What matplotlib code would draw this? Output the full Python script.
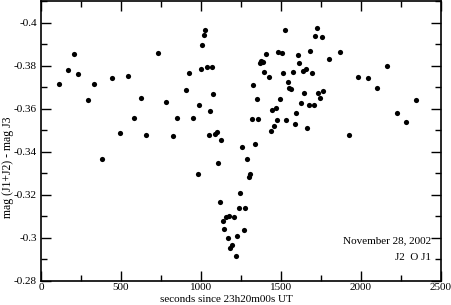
import matplotlib
matplotlib.use("Agg")
import matplotlib.pyplot as plt
from matplotlib.ticker import MultipleLocator

# time (s since 23h20m00s UT) and magnitude difference
seconds = [114, 168, 205, 230, 296, 334, 383, 441, 495, 544, 579, 624, 656,
           729, 783, 823, 852, 904, 925, 949, 980, 989, 998, 1008, 1018, 1027,
           1038, 1048, 1056, 1067, 1077, 1088, 1098, 1106, 1116, 1125, 1136,
           1145, 1155, 1166, 1174, 1184, 1196, 1205, 1216, 1228, 1236, 1246,
           1256, 1266, 1277, 1288, 1298, 1308, 1319, 1327, 1336, 1348, 1356,
           1366, 1378, 1388, 1396, 1408, 1427, 1436, 1443, 1456, 1466, 1476,
           1483, 1495, 1505, 1514, 1525, 1533, 1544, 1552, 1564, 1575, 1586,
           1596, 1605, 1614, 1625, 1636, 1646, 1655, 1664, 1674, 1684, 1695,
           1704, 1714, 1725, 1733, 1744, 1754, 1764, 1802, 1871, 1922, 1983,
           2042, 2103, 2163, 2223, 2283, 2344]
mag_diff = [-0.3713, -0.3780, -0.3854, -0.3759, -0.3641, -0.3713, -0.3365,
            -0.3744, -0.3488, -0.3752, -0.3555, -0.3650, -0.3480, -0.3860,
            -0.3629, -0.3474, -0.3555, -0.3687, -0.3765, -0.3557, -0.3296,
            -0.3617, -0.3785, -0.3896, -0.3942, -0.3964, -0.3794, -0.3479,
            -0.3588, -0.3792, -0.3669, -0.3482, -0.3492, -0.3346, -0.3166,
            -0.3455, -0.3078, -0.3041, -0.3096, -0.2999, -0.3104, -0.2955,
            -0.2967, -0.3097, -0.2917, -0.3007, -0.3138, -0.3209, -0.3420,
            -0.3036, -0.3138, -0.3366, -0.3285, -0.3295, -0.3551, -0.3709,
            -0.3436, -0.3643, -0.3550, -0.3813, -0.3820, -0.3817, -0.3769,
            -0.3853, -0.3747, -0.3496, -0.3594, -0.3520, -0.3603, -0.3548,
            -0.3864, -0.3644, -0.3860, -0.3766, -0.3964, -0.3547, -0.3723,
            -0.3697, -0.3692, -0.3769, -0.3528, -0.3581, -0.3850, -0.3814,
            -0.3627, -0.3774, -0.3675, -0.3782, -0.3511, -0.3616, -0.3867,
            -0.3766, -0.3617, -0.3938, -0.3975, -0.3673, -0.3649, -0.3933,
            -0.3683, -0.3831, -0.3865, -0.3480, -0.3745, -0.3741, -0.3695,
            -0.3800, -0.3581, -0.3536, -0.3641]

x_ticks = [0, 500, 1000, 1500, 2000, 2500]
y_ticks = [-0.28, -0.30, -0.32, -0.34, -0.36, -0.38, -0.40]
y_tick_labels = ["-0.28", "-0.3", "-0.32", "-0.34", "-0.36", "-0.38", "-0.4"]

plt.rcParams["font.family"] = ["Liberation Serif", "DejaVu Serif"]

fig = plt.figure(figsize=(4.52, 3.05), dpi=100)
ax = fig.add_axes([41 / 452, 24 / 305, 400 / 452, 280 / 305])

ax.scatter(seconds, mag_diff, s=14, color="black", linewidths=0)

ax.set_xlim(0, 2500)
ax.set_ylim(-0.28, -0.41)
ax.set_xticks(x_ticks)
ax.set_yticks(y_ticks)
ax.set_yticklabels(y_tick_labels)
ax.xaxis.set_minor_locator(MultipleLocator(250))
ax.yaxis.set_minor_locator(MultipleLocator(0.01))
ax.tick_params(which="both", direction="in", top=True, right=True,
               labelsize=8, width=1.0)
ax.tick_params(which="major", length=7, pad=3)
ax.tick_params(which="minor", length=4)
ax.tick_params(axis="x", which="major", pad=1.5)
for s in ax.spines.values():
    s.set_linewidth(1.2)

# axis titles sit a little off-centre in the original
fig.text(226 / 452, 1 - 300 / 305, "seconds since 23h20m00s UT",
         ha="center", va="center", fontsize=8)
fig.text(8 / 452, 1 - 167 / 305, "mag (J1+J2) - mag J3", rotation=90,
         ha="center", va="center", fontsize=8.5)

fig.text(431 / 452, 1 - 241 / 305, "November 28, 2002",
         ha="right", va="center", fontsize=8)
fig.text(431 / 452, 1 - 258 / 305, "J2  O J1",
         ha="right", va="center", fontsize=8)

fig.savefig("out.png", dpi=100)
